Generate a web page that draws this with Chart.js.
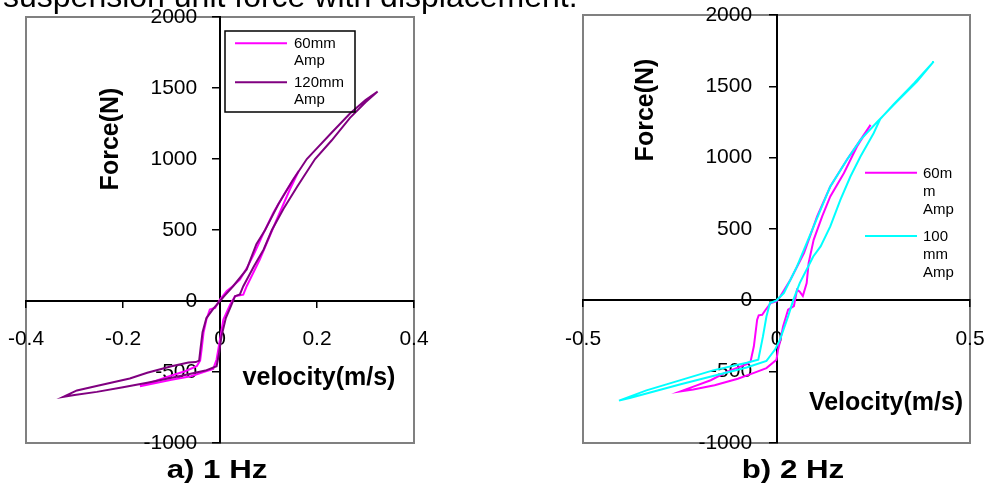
<!DOCTYPE html>
<html>
<head>
<meta charset="utf-8">
<script src="https://cdn.jsdelivr.net/npm/chart.js@4.4.1/dist/chart.umd.min.js"></script>
<style>
html,body{margin:0;padding:0;background:#fff;width:988px;height:488px;overflow:hidden;}
#wrap{position:relative;width:988px;height:488px;}
canvas{position:absolute;top:0;}
#c1{left:0;}
#c2{left:494px;}
#topline{position:absolute;left:3px;top:-20px;font:32px "Liberation Sans",Arial,sans-serif;line-height:32px;white-space:nowrap;color:#000;z-index:2;}
</style>
</head>
<body>
<div id="wrap">
<div id="topline">suspension unit force with displacement.</div>
<canvas id="c1" width="494" height="488"></canvas>
<canvas id="c2" width="494" height="488"></canvas>
</div>
<script>
// ---------- DATA ----------
// a) 1 Hz
const velocity60_1Hz = [0.162,0.150,0.130,0.110,0.090,0.070,0.055,0.041,0.025,0.014,0.000,-0.010,-0.021,-0.028,-0.034,-0.038,-0.041,-0.048,-0.072,-0.100,-0.124,-0.165,
  -0.130,-0.100,-0.060,-0.034,-0.014,-0.007,0.000,0.007,0.021,0.031,0.041,0.048,0.055,0.082,0.117,0.144,0.162];
const force60_1Hz = [914,850,740,621,480,330,230,151,100,70,10,-48,-60,-130,-224,-342,-420,-459,-495,-525,-553,-600,
  -575,-555,-530,-500,-478,-412,-271,-130,-25,34,40,45,104,292,574,785,914];

const velocity120_1Hz = [0.325,0.300,0.268,0.230,0.190,0.179,0.150,0.120,0.093,0.075,0.055,0.027,0.010,0.000,-0.014,-0.028,-0.036,-0.040,-0.043,-0.050,-0.065,-0.100,-0.150,-0.186,-0.250,-0.295,-0.323,
  -0.300,-0.254,-0.200,-0.150,-0.117,-0.070,-0.030,-0.007,-0.002,0.003,0.012,0.021,0.031,0.041,0.048,0.070,0.090,0.107,0.131,0.160,0.196,0.230,0.268,0.300,0.325];
const force120_1Hz = [1475,1415,1320,1185,1040,1000,850,680,500,400,222,104,40,0,-55,-120,-220,-330,-420,-430,-433,-460,-505,-546,-595,-630,-675,
  -662,-640,-607,-575,-553,-520,-490,-459,-370,-250,-120,-48,34,46,104,245,363,500,650,810,1000,1130,1290,1400,1475];

// b) 2 Hz
const velocity60_2Hz = [0.243,0.217,0.182,0.139,0.105,0.071,0.036,0.010,0.000,-0.015,-0.028,-0.037,-0.046,-0.050,-0.0585,-0.067,-0.075,-0.127,-0.170,-0.213,-0.248,
  -0.215,-0.160,-0.100,-0.060,-0.026,0.000,0.004,0.009,0.017,0.030,0.045,0.053,0.060,0.068,0.078,0.083,0.096,0.118,0.139,0.174,0.208,0.243];
const force60_2Hz = [1230,1125,985,798,588,331,144,28,-7,-19,-66,-101,-105,-136,-322,-428,-445,-500,-560,-603,-638,
  -625,-595,-550,-510,-475,-416,-346,-290,-183,-66,-40,74,60,30,121,261,424,588,728,891,1078,1230];

const velocity100_2Hz = [0.406,0.363,0.303,0.260,0.217,0.182,0.139,0.096,0.053,0.019,0.000,-0.017,-0.026,-0.035,-0.047,-0.077,-0.164,-0.250,-0.336,-0.407,
  -0.379,-0.250,-0.164,-0.077,-0.026,-0.013,-0.004,0.009,0.030,0.043,0.060,0.095,0.114,0.139,0.165,0.191,0.217,0.251,0.268,0.303,0.355,0.406];
const force100_2Hz = [1673,1533,1370,1250,1125,985,798,518,238,51,0,-19,-113,-253,-416,-438,-491,-561,-631,-703,
  -685,-590,-531,-471,-425,-378,-346,-276,-113,0,121,307,378,518,704,868,1008,1171,1270,1375,1521,1673];

// tick values
const xTicks1Hz = [-0.4,-0.2,0,0.2,0.4];
const xTicks2Hz = [-0.5,0,0.5];
const yTicks = [-1000,-500,0,500,1000,1500,2000];

// labels
const legend1Hz = [['60mm','Amp'],['120mm','Amp']];
const legend2Hz = [['60m','m','Amp'],['100','mm','Amp']];
const colors1Hz = ['#FF00FF','#800080'];
const colors2Hz = ['#FF00FF','#00FFFF'];

// ---------- helpers ----------
function pts(xs, ys){ return xs.map((x,i)=>({x:x, y:ys[i]})); }
const FONT = '"Liberation Sans", Arial, sans-serif';
const noPad = s => { s.paddingLeft=0; s.paddingRight=0; s.paddingTop=0; s.paddingBottom=0; };
const tickFont = {family:FONT,size:21};

function makeScales(xmin,xmax,xt,labelX){
  return {
    x:{
      type:'linear',min:xmin,max:xmax,position:{y:0},
      afterBuildTicks:s=>{s.ticks=xt.map(v=>({value:v}));},
      afterFit:noPad,
      grid:{display:true,drawOnChartArea:false,drawTicks:true,tickLength:6,color:'#000',lineWidth:1.5},
      border:{display:true,color:'#000',width:2},
      ticks:{color:'#000',font:tickFont,padding:20,maxRotation:0,autoSkip:false,callback:v=>String(v)}
    },
    y:{
      type:'linear',min:-1000,max:2000,position:{x:0},
      afterBuildTicks:s=>{s.ticks=yTicks.map(v=>({value:v}));},
      afterFit:noPad,
      grid:{display:true,drawOnChartArea:false,drawTicks:true,tickLength:7,color:'#000',lineWidth:1.5},
      border:{display:true,color:'#000',width:2},
      ticks:{display:false}
    },
    // label-only axis carrying the force tick labels, just left of the y axis
    yLabels:{
      type:'linear',axis:'y',min:-1000,max:2000,position:{x:labelX},
      afterBuildTicks:s=>{s.ticks=yTicks.map(v=>({value:v}));},
      afterFit:noPad,
      grid:{display:false},
      border:{display:false},
      ticks:{color:'#000',font:tickFont,autoSkip:false,callback:v=>String(v)}
    }
  };
}

const boxPlugin = {
  id:'plotBox',
  beforeDraw(chart){
    const {ctx,chartArea:a} = chart;
    ctx.save();
    ctx.strokeStyle='#808080'; ctx.lineWidth=2;
    ctx.strokeRect(a.left,a.top,a.right-a.left,a.bottom-a.top);
    ctx.restore();
  }
};

const textPlugin = {
  id:'texts',
  afterDraw(chart,args,o){
    const ctx = chart.ctx;
    ctx.save();
    ctx.fillStyle='#000';
    ctx.textAlign='center'; ctx.textBaseline='middle';
    ctx.font='bold 25px '+FONT;
    ctx.save(); ctx.translate(o.title.x,o.title.y); ctx.scale(1.25,1); ctx.fillText(o.title.text,0,0); ctx.restore();
    ctx.fillText(o.xTitle.text,o.xTitle.x,o.xTitle.y);
    ctx.save(); ctx.translate(o.yTitle.x,o.yTitle.y); ctx.rotate(-Math.PI/2); ctx.fillText(o.yTitle.text,0,0); ctx.restore();
    const L = o.legend;
    if (L.box){
      ctx.strokeStyle='#000'; ctx.lineWidth=1.5;
      ctx.strokeRect(L.box[0],L.box[1],L.box[2],L.box[3]);
    }
    ctx.font='15px '+FONT; ctx.textAlign='left';
    chart.data.datasets.forEach((ds,i)=>{
      const y = L.y[i];
      ctx.strokeStyle=ds.borderColor; ctx.lineWidth=2;
      ctx.beginPath(); ctx.moveTo(L.x1,y); ctx.lineTo(L.x2,y); ctx.stroke();
      L.labels[i].forEach((t,k)=>{ ctx.fillText(t,L.tx,y+1+k*L.gap); });
    });
    ctx.restore();
  }
};

function makeChart(id, datasets, xmin, xmax, xt, labelX, pad, texts){
  return new Chart(document.getElementById(id),{
    type:'scatter',
    data:{datasets:datasets},
    options:{
      responsive:false, animation:false,
      layout:{padding:pad},
      scales:makeScales(xmin,xmax,xt,labelX),
      plugins:{legend:{display:false},tooltip:{enabled:false},texts:texts},
      elements:{point:{radius:0},line:{tension:0}}
    },
    plugins:[boxPlugin,textPlugin]
  });
}

function ds(label,xs,ys,color,order){
  return {label:label,data:pts(xs,ys),showLine:true,borderColor:color,backgroundColor:color,borderWidth:2,pointRadius:0,fill:false,order:order};
}

makeChart('c1',[
  ds('60mm Amp',velocity60_1Hz,force60_1Hz,colors1Hz[0],1),
  ds('120mm Amp',velocity120_1Hz,force120_1Hz,colors1Hz[1],0)
], -0.4, 0.4, xTicks1Hz, -0.047, {left:26,right:80,top:17,bottom:45},{
  title:{text:'a) 1 Hz',x:217,y:471},
  xTitle:{text:'velocity(m/s)',x:319,y:378},
  yTitle:{text:'Force(N)',x:111,y:139},
  legend:{box:[225,31,130,81],x1:235,x2:287,y:[43.3,82.3],tx:294,gap:16.5,labels:legend1Hz}
});

makeChart('c2',[
  ds('60mm Amp',velocity60_2Hz,force60_2Hz,colors2Hz[0],1),
  ds('100mm Amp',velocity100_2Hz,force100_2Hz,colors2Hz[1],0)
], -0.5, 0.5, xTicks2Hz, -0.063, {left:89,right:18,top:15,bottom:45},{
  title:{text:'b) 2 Hz',x:299,y:471},
  xTitle:{text:'Velocity(m/s)',x:392,y:403},
  yTitle:{text:'Force(N)',x:152,y:110},
  legend:{box:null,x1:371,x2:423,y:[172.7,236],tx:429,gap:18,labels:legend2Hz}
});
</script>
</body>
</html>
